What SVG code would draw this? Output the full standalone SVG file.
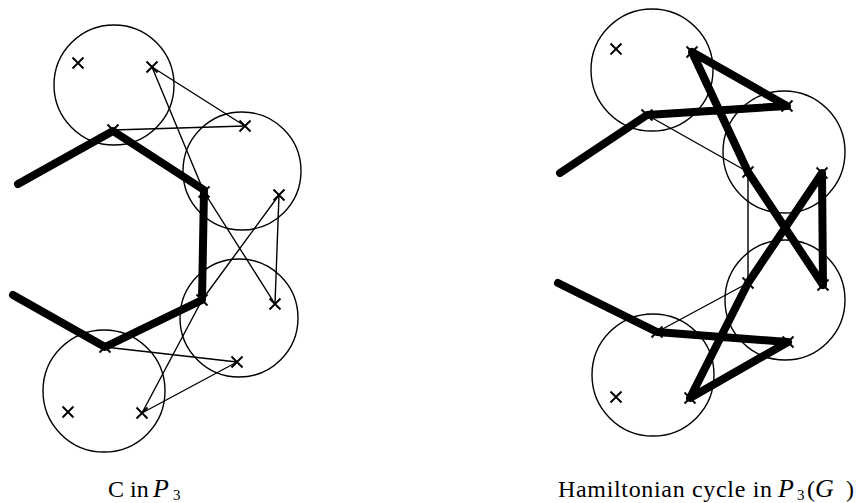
<svg xmlns="http://www.w3.org/2000/svg" xmlns:xlink="http://www.w3.org/1999/xlink" width="859" height="503" viewBox="0 0 859 503">
<style>
.c{fill:none;stroke:#000;stroke-width:1.4}
.m{fill:none;stroke:#000;stroke-width:1.9}
.t{fill:none;stroke:#000;stroke-width:1.4;stroke-linecap:round}
.k{fill:none;stroke:#000;stroke-width:8;stroke-linecap:round;stroke-linejoin:round}
.l{font-family:"Liberation Serif","Times New Roman",serif;font-size:24px;fill:#000}
.i{font-style:italic;font-size:26px}
.s{font-size:15px}
</style>
<defs>
<path id="x" class="m" d="M-5.5,-5.5L5.5,5.5M-5.5,5.5L5.5,-5.5"/>
</defs>
<rect width="859" height="503" fill="#fff"/>
<g id="left-graph">
<g id="L1"><circle class="c" cx="114" cy="85" r="60"/><use xlink:href="#x" x="78" y="63"/><use xlink:href="#x" x="152" y="67"/><use xlink:href="#x" x="113" y="130"/></g>
<g id="L2"><circle class="c" cx="242" cy="171" r="59"/><use xlink:href="#x" x="245" y="126"/><use xlink:href="#x" x="204" y="192"/><use xlink:href="#x" x="279" y="195"/></g>
<g id="L3"><circle class="c" cx="239" cy="318" r="59"/><use xlink:href="#x" x="202" y="300"/><use xlink:href="#x" x="275" y="304"/><use xlink:href="#x" x="237" y="362"/></g>
<g id="L4"><circle class="c" cx="104" cy="391" r="61"/><use xlink:href="#x" x="105" y="347"/><use xlink:href="#x" x="68" y="412"/><use xlink:href="#x" x="142" y="413"/></g>
</g>
<g id="right-graph">
<g id="R1"><circle class="c" cx="652" cy="70" r="61"/><use xlink:href="#x" x="616" y="49"/><use xlink:href="#x" x="692" y="52"/><use xlink:href="#x" x="647" y="115"/></g>
<g id="R2"><circle class="c" cx="784" cy="152" r="61"/><use xlink:href="#x" x="787" y="106"/><use xlink:href="#x" x="748" y="172"/><use xlink:href="#x" x="822" y="173"/></g>
<g id="R3"><circle class="c" cx="785" cy="300" r="60"/><use xlink:href="#x" x="748" y="283"/><use xlink:href="#x" x="823" y="285"/><use xlink:href="#x" x="788" y="342"/></g>
<g id="R4"><circle class="c" cx="653" cy="375" r="61"/><use xlink:href="#x" x="657" y="332"/><use xlink:href="#x" x="616" y="397"/><use xlink:href="#x" x="690" y="398"/></g>
</g>
<g id="connectors">
<path class="t" d="M152,67L245,126M152,67L204,192M113,130L245,126M204,192L275,304M279,195L202,300M279,195L275,304M202,300L142,413M105,347L237,362M237,362L142,413"/>
<path class="k" d="M18,184L113,131L204,190L202,300L105,347L13,295"/>
<path class="t" d="M647,115L748,172M748,172L748,283M748,283L657,332"/>
<path class="k" d="M560,173L647,115L787,106L692,52L748,172L823,285L822,173L748,283L690,398L788,342L657,332L558,283"/>
</g>
<g id="labels">
<text class="l" x="108" y="497">C in</text>
<text class="l i" x="153" y="497">P</text>
<text class="l s" x="173" y="500">3</text>
<text class="l" x="558" y="497" textLength="214" lengthAdjust="spacing">Hamiltonian cycle in</text>
<text class="l i" x="778" y="497">P</text>
<text class="l s" x="797" y="500">3</text>
<text class="l" x="807" y="497">(</text>
<text class="l i" x="815" y="497">G</text>
<text class="l" x="846" y="497">)</text>
</g>
</svg>
